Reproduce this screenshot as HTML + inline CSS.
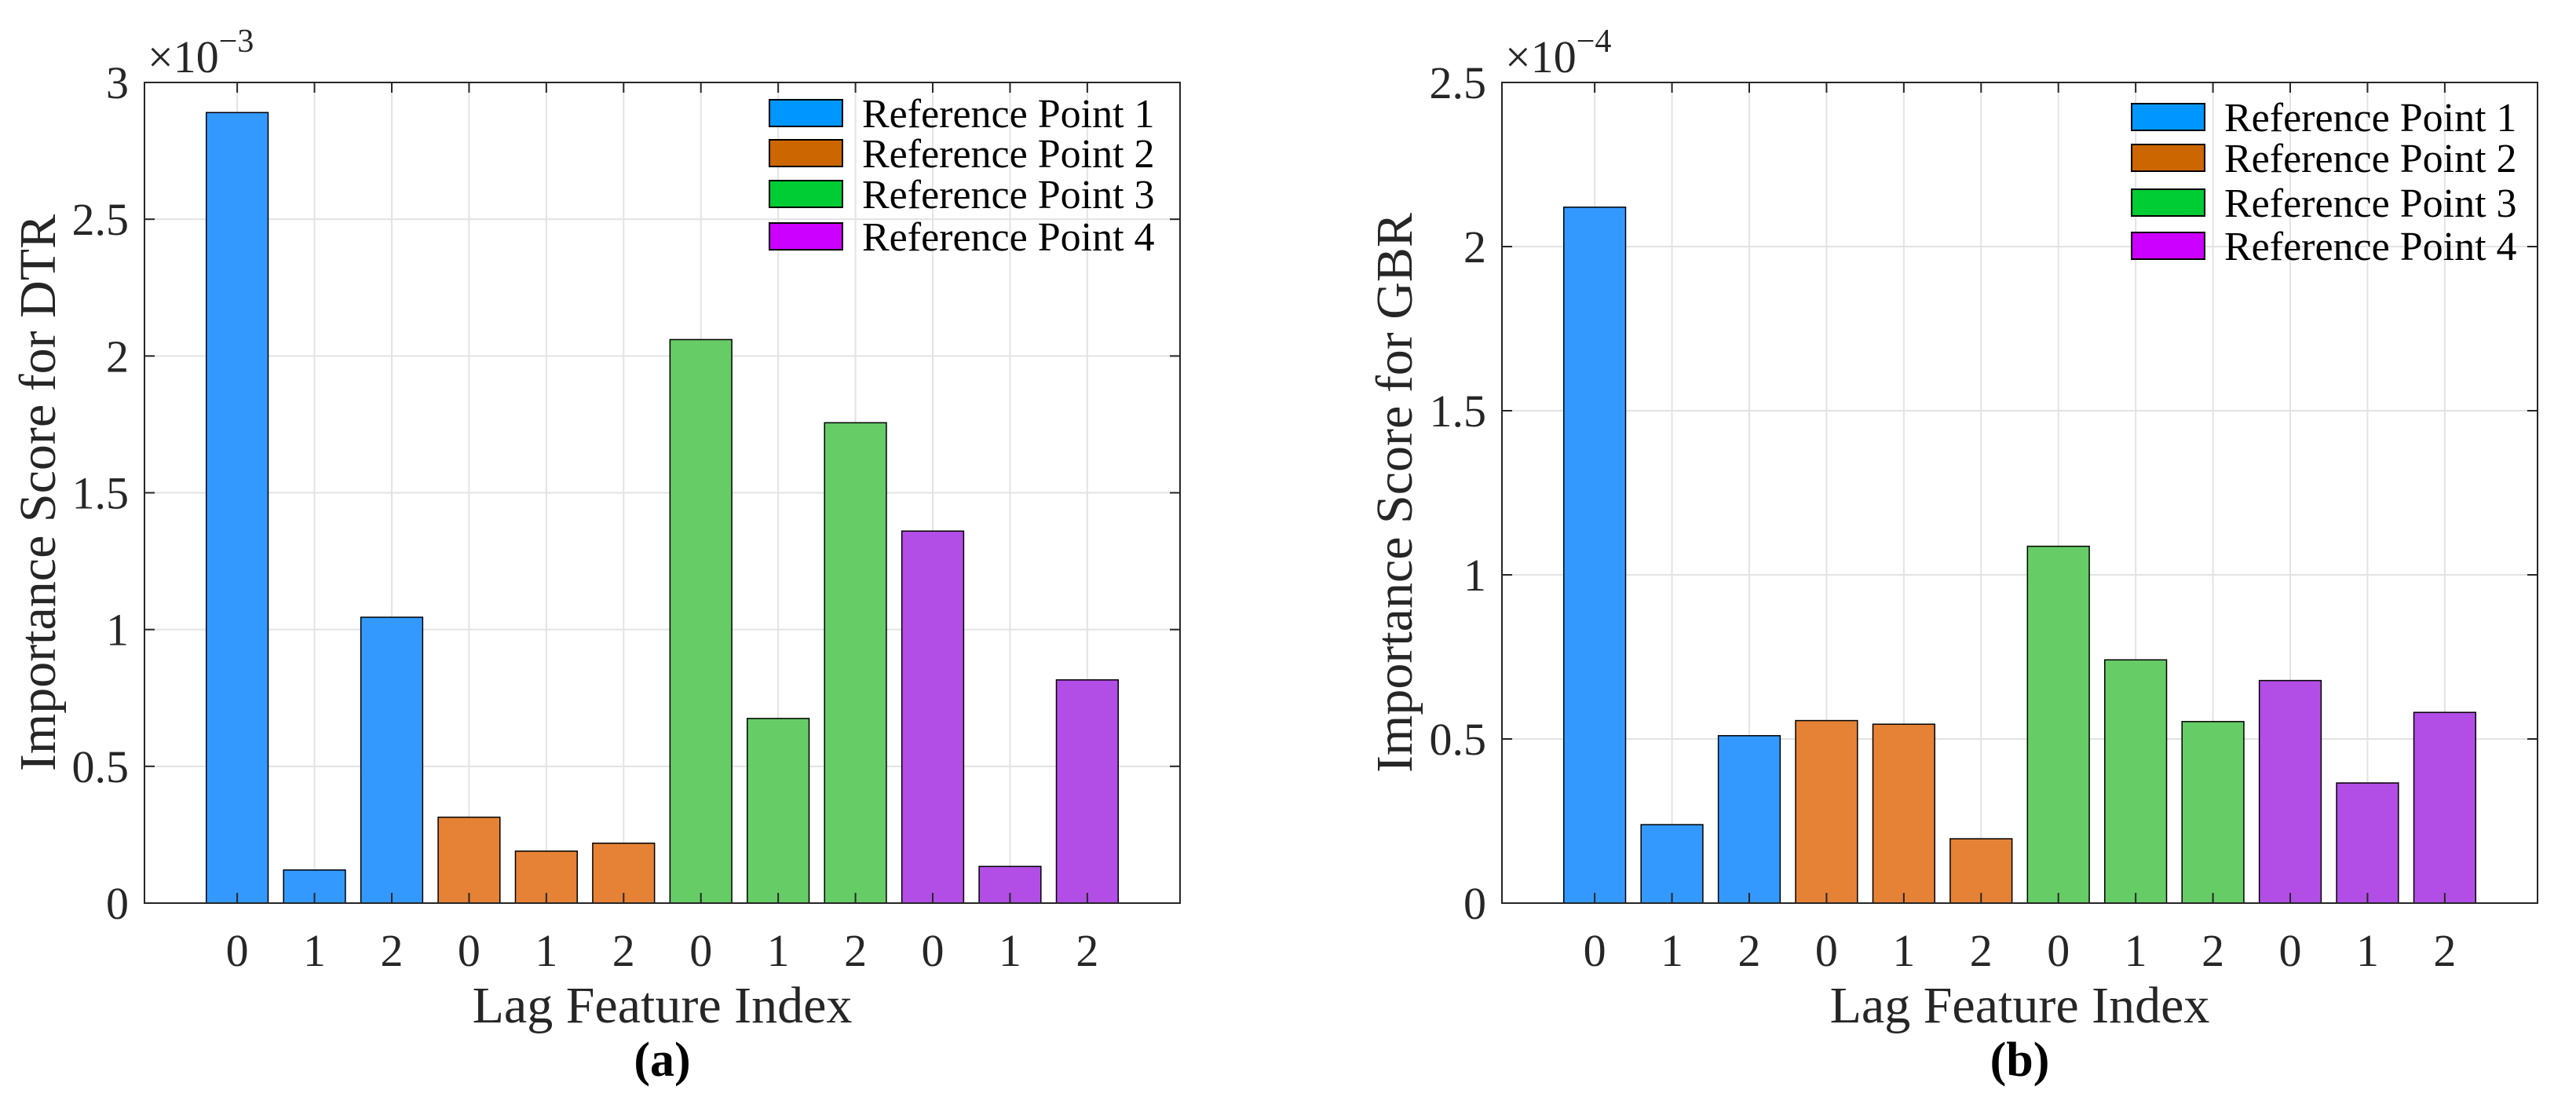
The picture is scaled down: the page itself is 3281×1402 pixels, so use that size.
<!DOCTYPE html>
<html><head><meta charset="utf-8"><style>
html,body{margin:0;padding:0;background:#fff;}
svg{display:block;}
svg text{font-family:"Liberation Serif","Times New Roman","DejaVu Serif",serif;}
</style></head><body>
<svg id="fig" width="3281" height="1402" viewBox="0 0 3281 1402" xmlns="http://www.w3.org/2000/svg" font-family="Liberation Serif, serif"></svg>
<script>
const categories = ["0","1","2","0","1","2","0","1","2","0","1","2"];
const groupOf = [0,0,0,1,1,1,2,2,2,3,3,3];
const seriesNames = ["Reference Point 1","Reference Point 2","Reference Point 3","Reference Point 4"];
const dtrValues = [2.89,0.121,1.045,0.314,0.19,0.219,2.06,0.675,1.756,1.36,0.134,0.816];
const gbrValues = [2.12,0.239,0.51,0.556,0.545,0.196,1.087,0.741,0.553,0.678,0.366,0.581];
const dtrTicks = [0,0.5,1,1.5,2,2.5,3];
const dtrTickLabels = ["0","0.5","1","1.5","2","2.5","3"];
const gbrTicks = [0,0.5,1,1.5,2,2.5];
const gbrTickLabels = ["0","0.5","1","1.5","2","2.5"];
const barColors = ["#3399ff","#e58236","#66cc66","#b24ee5"];
const legendColors = ["#0096ff","#cc6600","#00cc33","#cc00ff"];

const NS="http://www.w3.org/2000/svg";
const svg=document.getElementById('fig');
function mk(tag,attrs,parent,text){const e=document.createElementNS(NS,tag);for(const k in attrs)e.setAttribute(k,attrs[k]);if(tag==='text')e.setAttribute('font-family','Liberation Serif, Times New Roman, serif');if(text!==undefined)e.textContent=text;(parent||svg).appendChild(e);return e;}

function panel(p){
  const g=mk('g',{});
  
  
  const L=p.left,R=p.right,T=105,B=1150;
  const n=categories.length;
  const xs=i=>L+(i+1.2)/(n+1.4)*(R-L);
  const ys=v=>B-v/p.ymax*(B-T);
  const bw=0.8/(n+1.4)*(R-L);
  for(let i=0;i<n;i++){const l=mk('line',{x1:xs(i),x2:xs(i),y1:T,y2:B,stroke:'#e3e3e3','stroke-width':2},g);
    }
  p.ticks.forEach((t,k)=>{const y=ys(t);
    const l=mk('line',{x1:L,x2:R,y1:y,y2:y,stroke:'#e3e3e3','stroke-width':2},g);
    
    mk('line',{x1:L,x2:L+13,y1:y,y2:y,stroke:'#262626','stroke-width':2},g);
    mk('line',{x1:R,x2:R-13,y1:y,y2:y,stroke:'#262626','stroke-width':2},g);
    const tx=mk('text',{x:L-20,y:y+20,'font-size':58,'text-anchor':'end',fill:'#262626'},g,p.tickLabels[k]);
    
  });
  p.values.forEach((v,i)=>{
    const r=mk('rect',{x:xs(i)-bw/2,y:ys(v),width:bw,height:B-ys(v),fill:barColors[groupOf[i]],stroke:'#000','stroke-width':1.5},g);
    
    
  });
  for(let i=0;i<n;i++){
    mk('line',{x1:xs(i),x2:xs(i),y1:B,y2:B-13,stroke:'#262626','stroke-width':2},g);
    mk('line',{x1:xs(i),x2:xs(i),y1:T,y2:T+13,stroke:'#262626','stroke-width':2},g);
    const tx=mk('text',{x:xs(i),y:1230,'font-size':58,'text-anchor':'middle',fill:'#262626'},g,categories[i]);
    
  }
  const box=mk('rect',{x:L,y:T,width:R-L,height:B-T,fill:'none',stroke:'#262626','stroke-width':2},g);
  
  const ex=mk('text',{x:L+4,y:92,'font-size':58,fill:'#262626'},g);
  
  mk('tspan',{},ex,'×10');
  mk('tspan',{dy:-26,'font-size':42},ex,p.exp);
  const xl=mk('text',{x:(L+R)/2,y:1302,'font-size':66,'text-anchor':'middle',fill:'#262626'},g,'Lag Feature Index');
  
  const yl=mk('text',{x:0,y:0,'font-size':66,'text-anchor':'middle',fill:'#262626',transform:`translate(${p.ylabelX},${(T+B)/2}) rotate(-90)`},g,p.ylabel);
  
  const cap=mk('text',{x:(L+R)/2,y:1370,'font-size':62,'font-weight':'bold','text-anchor':'middle',fill:'#000'},g,p.caption);
  
  seriesNames.forEach((s,k)=>{
    const cy=p.legY[k];
    const lg=mk('g',{},g);
    
    mk('rect',{x:p.legX,y:cy-17,width:93,height:34,fill:legendColors[k],stroke:'#000','stroke-width':2},lg);
    mk('text',{x:p.legX+118,y:cy+18,'font-size':52,fill:'#000'},lg,s);
  });
}
panel({id:'dtr',left:184,right:1503,ymax:3,values:dtrValues,ticks:dtrTicks,tickLabels:dtrTickLabels,exp:'−3',ylabel:'Importance Score for DTR',ylabelX:70,caption:'(a)',legX:980,legY:[144,195,247,301]});
panel({id:'gbr',left:1913,right:3232,ymax:2.5,values:gbrValues,ticks:gbrTicks,tickLabels:gbrTickLabels,exp:'−4',ylabel:'Importance Score for GBR',ylabelX:1798,caption:'(b)',legX:2715,legY:[149,201,258,313]});
</script>
</body></html>
